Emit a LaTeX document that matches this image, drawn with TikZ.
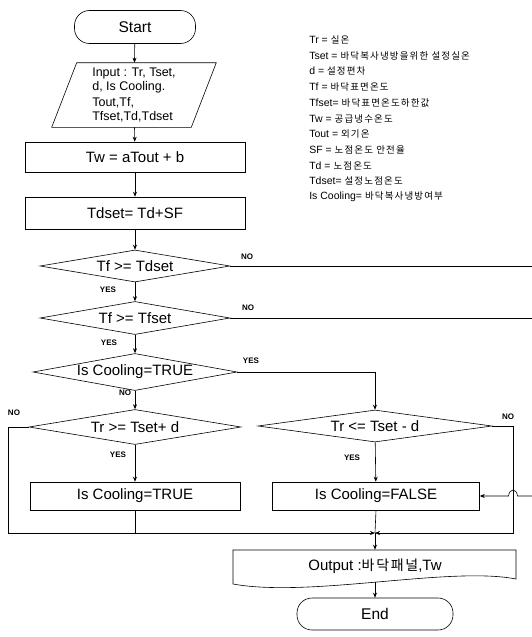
\documentclass[tikz,border=0pt]{standalone}
\usepackage{fontspec}
\setmainfont{Liberation Sans}
\newfontfamily\kr[LetterSpace=12]{Noto Sans CJK KR}
\usetikzlibrary{arrows.meta,calc,positioning,shapes.geometric}

\begin{document}
\begin{tikzpicture}[x=1pt,y=-1pt,>={Stealth[length=5pt,width=4pt]},line width=0.6pt,
  term/.style={draw,rounded corners=15pt,minimum width=#1,minimum height=33pt,
    font=\fontsize{15.5}{17}\selectfont},
  proc/.style={draw,minimum width=#1,minimum height=29pt,font=\fontsize{15}{17}\selectfont},
  cond/.style={draw,diamond,aspect=6,inner sep=0pt,font=\fontsize{15}{17}\selectfont},
  yn/.style={inner sep=0pt,font=\fontsize{8}{9}\selectfont\bfseries},
  legend/.style={anchor=west,inner sep=0pt,font=\fontsize{10.5}{12}\selectfont}]
  \useasboundingbox (0,0) rectangle (532,637);
  % left column
  \node[term=121pt] (start) at (135,27) {Start};
  \node[minimum width=139pt,minimum height=64pt,inner sep=0pt,align=left,
    font=\fontsize{12.5}{13.5}\selectfont] (inp) at (134,95)
    {Input : Tr, Tset,\\ d, Is Cooling.\\[3pt] Tout,Tf,\\ Tfset,Td,Tdset};
  \draw ([xshift=12.5pt]inp.north west) -- ([xshift=12.5pt]inp.north east)
    -- ([xshift=-12.5pt]inp.south east) -- ([xshift=-12.5pt]inp.south west) -- cycle;
  \node[proc=220pt,minimum height=30pt] (tw) at (135,157) {Tw = aTout + b};
  \node[proc=220pt,minimum height=32pt] (tds) at (135,213) {Tdset= Td+SF};
  \node[cond,minimum width=190pt,minimum height=32pt] (c1) at (135,266) {Tf >= Tdset};
  \node[cond,minimum width=190pt,minimum height=33pt] (c2) at (135,318) {Tf >= Tfset};
  \node[cond,minimum width=204pt,minimum height=37pt] (c3) at (135,372) {Is Cooling=TRUE};
  \node[cond,minimum width=212pt,minimum height=35pt] (c4) at (135,427) {Tr >= Tset+ d};
  \node[proc=210pt,minimum height=28pt] (t1) at (135,496) {Is Cooling=TRUE};
  % right column
  \node[cond,minimum width=234pt,minimum height=32pt] (c5) at (375,426) {Tr <= Tset - d};
  \node[proc=207pt,minimum height=28pt] (f1) at (376,496) {Is Cooling=FALSE};
  \node[minimum width=283pt,minimum height=32pt,font=\fontsize{15}{17}\selectfont]
    (out) at (375,566) {Output :{\kr\fontsize{14}{17}\selectfont 바닥패널},Tw};
  \draw (233,550) -- (516,550) -- (516,579) .. controls (450,566) and (310,598) .. (233,584) -- cycle;
  \node[term=156pt,minimum height=32pt] (stop) at (375,614) {End};
  % free ends and corners
  \coordinate (noA) at (532,266);
  \coordinate (noB) at (532,318);
  \coordinate (inR) at (532,496);
  \coordinate (merge) at (375,533);
  \coordinate (lfoot) at (8,533);
  \coordinate (rfoot) at (513,533);
  \coordinate (hop) at (rfoot |- f1.east);
  % connectors
  \draw[->] (start) -- (inp);
  \draw[->] (inp) -- (tw);
  \draw[->] (tw) -- (tds);
  \draw[->] (tds) -- (c1);
  \draw[->] (c1) -- (c2);
  \draw[->] (c2) -- (c3);
  \draw[->] (c3) -- (c4);
  \draw[->] (c4) -- (t1);
  \draw[->] (c5) -- (f1);
  \draw (c1.east) -- (noA);
  \draw (c2.east) -- (noB);
  \draw[->] (c3.east) -| (c5.north);
  \draw[->] (c4.west) -| (lfoot) -- (merge);
  \draw[->] (c5.east) -| (rfoot) -- (merge);
  \draw (t1.south) -- (t1.south |- merge);
  \draw (f1.south) -- (merge);
  \draw[->] (merge) -- (out.north);
  \draw[->] (out.south) -- (stop);
  \draw[->] (inR) -- ([xshift=4.5pt]hop) .. controls ([xshift=3.5pt,yshift=8pt]hop)
    and ([xshift=-3.5pt,yshift=8pt]hop) .. ([xshift=-4.5pt]hop) -- (f1.east);
  % branch labels
  \node[yn] (no1) at (247,257) {NO};
  \node[yn] (yes1) at (108,290) {YES};
  \node[yn] (no2) at (248,308) {NO};
  \node[yn] (yes2) at (109,343) {YES};
  \node[yn] (yes3) at (251,361) {YES};
  \node[yn] (no3) at (125,393) {NO};
  \node[yn] (no4) at (14,413) {NO};
  \node[yn] (yes4) at (118,455) {YES};
  \node[yn] (no5) at (508,417) {NO};
  \node[yn] (yes5) at (352,458) {YES};
  % legend
  \foreach \lhs/\rhs [count=\i] in {Tr =/실온, Tset =/바닥복사냉방을위한 설정실온,
      d =/설정편차, Tf =/바닥표면온도, Tfset=/바닥표면온도하한값, Tw =/공급냉수온도,
      Tout =/외기온, SF =/노점온도 안전율, Td =/노점온도, Tdset=/설정노점온도,
      Is Cooling=/바닥복사냉방여부}
    \node[legend] (leg\i) at (309,{40+15.7*(\i-1)}) {\lhs\ {\kr\fontsize{9.5}{12}\selectfont\rhs}};
\end{tikzpicture}
\end{document}
